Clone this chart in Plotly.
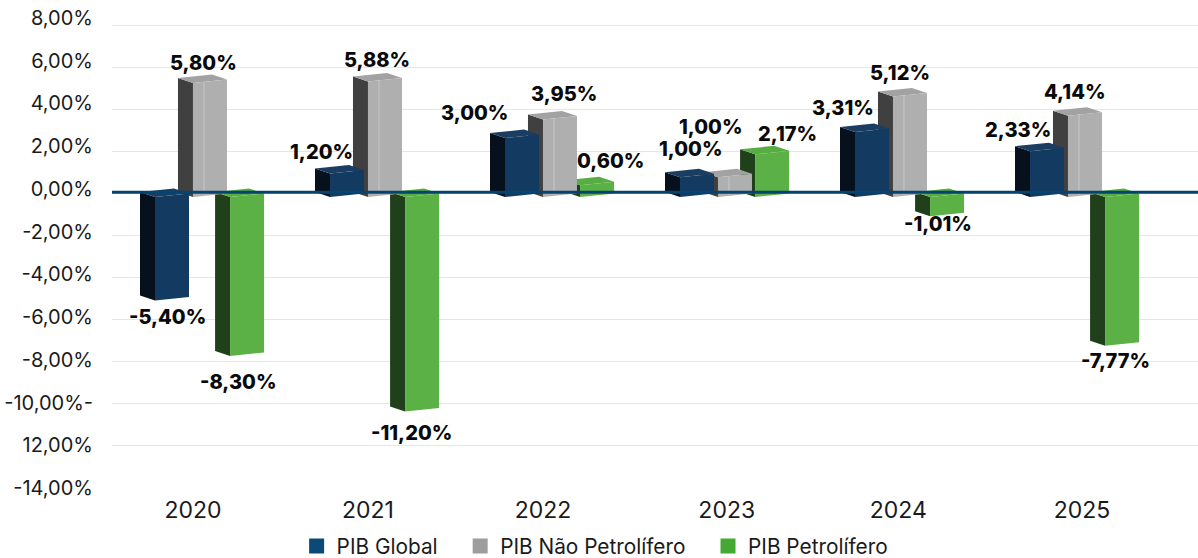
import plotly.graph_objects as go

YEARS = ["2020", "2021", "2022", "2023", "2024", "2025"]
PIB_GLOBAL = [-5.40, 1.20, 3.00, 1.00, 3.31, 2.33]
PIB_NAO_PETROLIFERO = [5.80, 5.88, 3.95, 1.00, 5.12, 4.14]
PIB_PETROLIFERO = [-8.30, -11.20, 0.60, 2.17, -1.01, -7.77]
Y_TICK_VALUES = [8, 6, 4, 2, 0, -2, -4, -6, -8, -10, -12, -14]
Y_TICK_LABELS = ["8,00%", "6,00%", "4,00%", "2,00%", "0,00%", "-2,00%", "-4,00%",
                 "-6,00%", "-8,00%", "-10,00%-", "12,00%", "-14,00%"]

# layout / style constants
W, H = 1198, 558
L, T, B = 112, 18, 70
PX_X, PX_Y = 1 / 175, 1 / 21
X_RANGE = [(112 - 193) * PX_X, (1198 - 193) * PX_X]
Y_RANGE = [-14 - 1 * PX_Y, 8 + 7 * PX_Y]
FONT = "Inter"
TICK_NUDGE = [0, 0, 0, 0.05, 0.03, 0.08]
SERIES_OFFSET = [-0.12, 0.097, 0.309]
HALF_W = 17 * PX_X
DEPTH_X, DEPTH_Y, TILT = 15 * PX_X, 5 * PX_Y, 3.5 * PX_Y
FRONT_BASE = -4 * PX_Y
POS_SCALE, NEG_SCALE = 19.65 * PX_Y, 19.15 * PX_Y

SERIES = [
    dict(name="PIB Petrolífero", values=PIB_PETROLIFERO, off=SERIES_OFFSET[2], front="#5cb146",
         side="#20401c", top="#56ad41", legend="#43a933"),
    dict(name="PIB Não Petrolífero", values=PIB_NAO_PETROLIFERO, off=SERIES_OFFSET[1], front="#afafaf",
         side="#404040", top="#a2a2a2", legend="#9d9d9d"),
    dict(name="PIB Global", values=PIB_GLOBAL, off=SERIES_OFFSET[0], front="#133a60",
         side="#07111e", top="#1b3d62", legend="#0b4a78"),
]
LABEL_SHIFT = {
    "PIB Global": [(-5, 17), (-26, -21), (-48, -25), (-6, -28), (-29, -24), (-29, -21)],
    "PIB Não Petrolífero": [(-6, -20), (-8, -21), (4, -25), (-24, -50), (-10, -23), (-10, -24)],
    "PIB Petrolífero": [(-9, 26), (-11, 22), (13, -24), (15, -20), (-9, 8), (-7, 15)],
}
LEGEND_PAD = {"PIB Global": 3, "PIB Não Petrolífero": 3, "PIB Petrolífero": 0}


def project(v):
    return v * POS_SCALE + FRONT_BASE if v >= 0 else v * NEG_SCALE + FRONT_BASE


def polygons(s, face):
    xs, ys = [], []
    for i, v in enumerate(s["values"]):
        c = i + s["off"]
        xl, xr = c - HALF_W, c + HALF_W
        yv = project(v)
        if face == "front":
            px = [xl, xr, xr, xl]
            py = [FRONT_BASE, FRONT_BASE + TILT, yv + TILT, yv]
        elif face == "side":
            px = [xl, xl, xl - DEPTH_X, xl - DEPTH_X]
            py = [FRONT_BASE, yv, yv + DEPTH_Y, FRONT_BASE + DEPTH_Y]
        else:
            t = yv if v > 0 else FRONT_BASE
            px = [xl, xr, xr - DEPTH_X, xl - DEPTH_X]
            py = [t, t + TILT, t + TILT + DEPTH_Y, t + DEPTH_Y]
        xs += px + [px[0], None]
        ys += py + [py[0], None]
    return xs, ys


fig = go.Figure()
for s in SERIES:
    for face in ("side", "top", "front"):
        xs, ys = polygons(s, face)
        fig.add_trace(go.Scatter(x=xs, y=ys, mode="lines", fill="toself", fillcolor=s[face],
                                 line=dict(width=0, color=s[face]), showlegend=False,
                                 hoverinfo="skip", name=s["name"]))
    if s["name"] == "PIB Não Petrolífero":
        xs, ys = [], []
        for i, v in enumerate(s["values"]):
            c = i + s["off"] - 6 * PX_X
            ys += [FRONT_BASE + 2 * PX_Y, project(v) + 1.5 * PX_Y, None]
            xs += [c, c, None]
        fig.add_trace(go.Scatter(x=xs, y=ys, mode="lines", line=dict(width=1, color="#c4c8cc"),
                                 showlegend=False, hoverinfo="skip"))

# legend entries
for s in reversed(SERIES):
    fig.add_trace(go.Scatter(x=[None], y=[None], mode="markers",
                             name=s["name"] + "\u00a0" * LEGEND_PAD[s["name"]],
                             marker=dict(symbol="square", size=15, color=s["legend"])))

# tick labels through an overlaying axis
fig.add_trace(go.Scatter(x=[None], y=[None], yaxis="y2", showlegend=False, hoverinfo="skip"))

for s in SERIES:
    for i, v in enumerate(s["values"]):
        dx, dy = LABEL_SHIFT[s["name"]][i]
        fig.add_annotation(x=i + s["off"], y=project(v), xref="x", yref="y",
                           text=f"{v:.2f}".replace(".", ",") + "%", showarrow=False,
                           xshift=dx, yshift=-dy, yanchor="middle",
                           font=dict(family=FONT, size=20, color="#0a0a0a", weight=800))

fig.add_shape(type="line", xref="paper", x0=0, x1=1, yref="y", y0=0.04, y1=0.04,
              line=dict(color="#04446f", width=3), layer="above")

fig.update_layout(
    width=W, height=H, autosize=False,
    margin=dict(l=L, r=0, t=T, b=B, pad=0, autoexpand=False),
    plot_bgcolor="white", paper_bgcolor="white",
    font=dict(family=FONT, size=20, color="#1a1a1a"),
    xaxis=dict(range=X_RANGE, tickmode="array", automargin=False,
               tickvals=[i + n for i, n in enumerate(TICK_NUDGE)], ticktext=YEARS,
               showgrid=False, zeroline=False, showline=False, ticks="",
               ticklabelstandoff=6, tickfont=dict(family=FONT, size=23, color="#1a1a1a")),
    yaxis=dict(range=Y_RANGE, tickmode="array", tickvals=Y_TICK_VALUES, showticklabels=False,
               automargin=False,
               gridcolor="#dfe7ef", gridwidth=1, zeroline=False, showline=False, ticks=""),
    yaxis2=dict(overlaying="y", side="left", anchor="x", range=[-14.002, 8.002], tickmode="array",
                automargin=False, ticklabeloverflow="allow",
                tickvals=Y_TICK_VALUES, ticktext=Y_TICK_LABELS, showgrid=False, zeroline=False,
                showline=False, ticks="", ticklabelstandoff=18,
                tickfont=dict(family=FONT, size=20, color="#1a1a1a")),
    legend=dict(orientation="h", x=0.17, y=-0.081, xanchor="left", yanchor="top",
                font=dict(family=FONT, size=20.8, color="#1a1a1a"), itemwidth=30,
                bgcolor="rgba(0,0,0,0)"),
    showlegend=True,
)
fig.write_html("out.html", config=dict(displayModeBar=False),
               post_script="document.body.style.margin='0';")
